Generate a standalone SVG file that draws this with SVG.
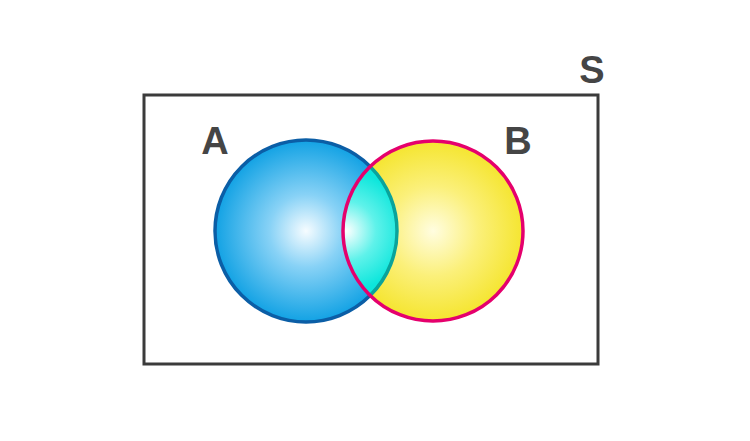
<svg xmlns="http://www.w3.org/2000/svg" width="750" height="441" viewBox="0 0 750 441">
<style>
.lbl{font-family:"Liberation Sans",Arial,sans-serif;font-weight:bold;font-size:38px;fill:#454545;text-anchor:middle}
</style>
<defs>
<radialGradient id="gA" cx="306" cy="231" r="91" gradientUnits="userSpaceOnUse">
<stop offset="0" stop-color="#f6fcff"/>
<stop offset="0.4" stop-color="#88d2f6"/>
<stop offset="1" stop-color="#12a2e4"/>
</radialGradient>
<radialGradient id="gB" cx="433" cy="231" r="90" gradientUnits="userSpaceOnUse">
<stop offset="0" stop-color="#fffde0"/>
<stop offset="0.5" stop-color="#fbf07a"/>
<stop offset="1" stop-color="#f5e530"/>
</radialGradient>
<radialGradient id="gC" cx="346" cy="231" r="60" gradientUnits="userSpaceOnUse">
<stop offset="0" stop-color="#ffffff"/>
<stop offset="0.5" stop-color="#5ff2ea"/>
<stop offset="1" stop-color="#0de6dc"/>
</radialGradient>
<clipPath id="clipB"><circle cx="433" cy="231" r="90"/></clipPath>
</defs>
<rect x="144" y="95" width="454" height="269" fill="none" stroke="#3b3b3b" stroke-width="3"/>
<g id="A">
<circle cx="306" cy="231" r="91" fill="url(#gA)" stroke="#0b5ea6" stroke-width="3.5"/>
<text class="lbl" x="215" y="154">A</text>
</g>
<g id="B">
<circle cx="433" cy="231" r="90" fill="url(#gB)"/>
<text class="lbl" x="518" y="154">B</text>
</g>
<g id="AB">
<circle cx="306" cy="231" r="91" fill="url(#gC)" stroke="#0aa39b" stroke-width="3.5" clip-path="url(#clipB)"/>
<circle cx="433" cy="231" r="90" fill="none" stroke="#e5006d" stroke-width="3.5"/>
</g>
<g id="S">
<text class="lbl" x="592" y="83">S</text>
</g>
</svg>
